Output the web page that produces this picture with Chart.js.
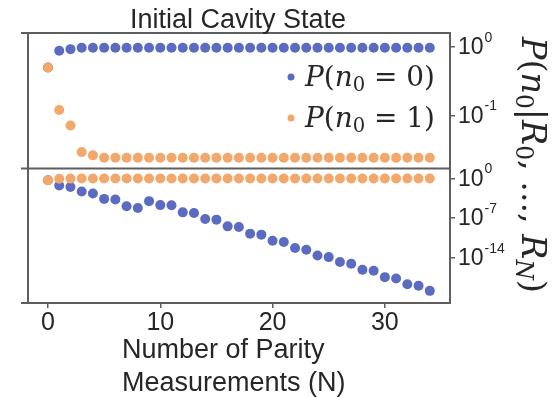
<!DOCTYPE html>
<html>
<head>
<meta charset="utf-8">
<script src="https://cdn.jsdelivr.net/npm/chart.js@4.4.0/dist/chart.umd.min.js"></script>
<style>
  html, body { margin: 0; padding: 0; background: #fff; }
</style>
</head>
<body>
<canvas id="chart" width="558" height="397"></canvas>
<script>
// measurement index N
const measurements = [0, 1, 2, 3, 4, 5, 6, 7, 8, 9, 10, 11, 12, 13, 14, 15, 16, 17,
  18, 19, 20, 21, 22, 23, 24, 25, 26, 27, 28, 29, 30, 31, 32, 33, 34];

// upper panel: record started from n0 = 0
const upperP0 = [0.5, 0.88, 0.929, 0.971, 0.974, 0.976, 0.976, 0.976, 0.976, 0.976,
  0.976, 0.976, 0.976, 0.976, 0.976, 0.976, 0.976, 0.976, 0.976, 0.976, 0.976, 0.976,
  0.976, 0.976, 0.976, 0.976, 0.976, 0.976, 0.976, 0.976, 0.976, 0.976, 0.976, 0.976, 0.976];
const upperP1 = [0.5, 0.12, 0.071, 0.029, 0.026, 0.024, 0.024, 0.024, 0.024, 0.024,
  0.024, 0.024, 0.024, 0.024, 0.024, 0.024, 0.024, 0.024, 0.024, 0.024, 0.024, 0.024,
  0.024, 0.024, 0.024, 0.024, 0.024, 0.024, 0.024, 0.024, 0.024, 0.024, 0.024, 0.024, 0.024];

// lower panel: record started from n0 = 1
const lowerP0 = [0.5, 5.8e-2, 3.2e-2, 5e-3, 2.2e-3, 2.5e-4, 1.9e-4, 1.3e-5, 6.3e-6, 1e-4,
  2e-5, 1.9e-5, 1.05e-6, 8.3e-7, 7e-8, 5.4e-8, 3.5e-9, 2.8e-9, 1.8e-10, 1.2e-10,
  1e-11, 6e-12, 5.1e-13, 2.6e-13, 2.5e-14, 1.3e-14, 1.7e-15, 8.5e-16, 7.4e-17, 4.9e-17,
  3.7e-18, 2.1e-18, 2.1e-19, 1.1e-19, 1.4e-20];
const lowerP1 = [0.5, 0.942, 0.968, 0.995, 0.998, 1, 1, 1, 1, 1, 1, 1, 1, 1, 1, 1, 1, 1,
  1, 1, 1, 1, 1, 1, 1, 1, 1, 1, 1, 1, 1, 1, 1, 1, 1];

const xTicks = [0, 10, 20, 30];
const upperTicks = [1, 0.1];
const lowerTicks = [1, 1e-7, 1e-14];

const blue = '#5b6bc2';
const orange = '#f2a76b';
const ink = '#262626';
const frame = '#5e5e5e';
const sans = '"Liberation Sans", Arial, sans-serif';
const serif = '"DejaVu Serif", "Liberation Serif", serif';

function points(ys) {
  return measurements.map((n, i) => ({ x: n, y: ys[i] }));
}

// draws a small math expression, parts are [text, kind]
// kind: r = roman, i = italic, s = subscript, si = italic subscript
function mathText(ctx, parts, x, y, size, draw) {
  let cx = x;
  parts.forEach(([txt, kind]) => {
    let fs = size, dy = 0;
    const italic = kind === 'i' || kind === 'si';
    if (kind === 's' || kind === 'si') { fs = size * 0.7; dy = size * 0.18; }
    ctx.font = (italic ? 'italic ' : '') + fs + 'px ' + serif;
    if (draw) ctx.fillText(txt, cx, y + dy);
    cx += ctx.measureText(txt).width;
  });
  return cx - x;
}

function fitSize(ctx, parts, base, width) {
  return base * width / mathText(ctx, parts, 0, 0, base, false);
}

const legendItems = [
  { color: blue, parts: [['P', 'i'], ['(', 'r'], ['n', 'i'], ['0', 's'], [' = 0)', 'r']] },
  { color: orange, parts: [['P', 'i'], ['(', 'r'], ['n', 'i'], ['0', 's'], [' = 1)', 'r']] }
];
const yTitle = [['P', 'i'], ['(', 'r'], ['n', 'i'], ['0', 's'], ['|', 'r'], ['R', 'i'], ['0', 's'],
  [', ..., ', 'r'], ['R', 'i'], ['N', 'si'], [')', 'r']];

const decorations = {
  id: 'decorations',
  afterDraw(chart) {
    const ctx = chart.ctx;
    const area = chart.chartArea;
    const top = chart.scales.yTop, bot = chart.scales.yBot;
    ctx.save();

    // panel frames
    ctx.strokeStyle = frame;
    ctx.lineWidth = 2;
    ctx.beginPath();
    [area.top, top.bottom, area.bottom].forEach(y => {
      ctx.moveTo(area.left - 7, y); ctx.lineTo(area.right + 1, y);
    });
    ctx.moveTo(area.left, area.top); ctx.lineTo(area.left, area.bottom);
    ctx.moveTo(area.right, area.top); ctx.lineTo(area.right, area.bottom);
    ctx.stroke();

    // log tick labels on the right
    ctx.fillStyle = ink;
    ctx.textBaseline = 'middle';
    ctx.textAlign = 'left';
    [top, bot].forEach(scale => {
      scale.ticks.forEach(t => {
        const y = scale.getPixelForValue(t.value);
        const exp = String(Math.round(Math.log10(t.value)));
        ctx.font = '23px ' + sans;
        ctx.fillText('10', area.right + 8, y + 1);
        const w = ctx.measureText('10').width;
        ctx.font = '14px ' + sans;
        ctx.fillText(exp, area.right + 9 + w, y - 9);
      });
    });

    // title
    ctx.font = '27px ' + sans;
    ctx.textAlign = 'center';
    ctx.textBaseline = 'alphabetic';
    ctx.fillText('Initial Cavity State', 238, 28);

    // x axis title, two left aligned lines
    ctx.textAlign = 'left';
    ctx.fillText('Number of Parity', 122, 358);
    ctx.fillText('Measurements (N)', 122, 391);

    // legend
    const legSize = fitSize(ctx, legendItems[0].parts, 24, 130);
    legendItems.forEach((item, i) => {
      const y = 77 + i * 41;
      ctx.fillStyle = item.color;
      ctx.beginPath();
      ctx.arc(291, y, 3.5, 0, Math.PI * 2);
      ctx.fill();
      ctx.fillStyle = ink;
      mathText(ctx, item.parts, 305, y + 9, legSize, true);
    });

    // rotated y title
    const size = fitSize(ctx, yTitle, 28, 256);
    ctx.translate(522, 37);
    ctx.rotate(Math.PI / 2);
    mathText(ctx, yTitle, 0, 0, size, true);

    ctx.restore();
  }
};

const logAxis = (min, max, ticks, weight) => ({
  type: 'logarithmic',
  position: 'right',
  stack: 'panels',
  stackWeight: weight,
  min: min,
  max: max,
  border: { display: false },
  grid: { display: true, drawOnChartArea: false, drawTicks: true, tickLength: 5, color: frame, lineWidth: 1.5 },
  ticks: { display: false },
  afterBuildTicks: axis => { axis.ticks = ticks.map(v => ({ value: v })); },
  afterFit: axis => { axis.width = 6; }
});

new Chart(document.getElementById('chart'), {
  type: 'scatter',
  data: {
    datasets: [
      { label: 'P(n0=1) upper', data: points(upperP1), yAxisID: 'yTop', backgroundColor: orange },
      { label: 'P(n0=0) upper', data: points(upperP0), yAxisID: 'yTop', backgroundColor: blue },
      { label: 'P(n0=1) lower', data: points(lowerP1), yAxisID: 'yBot', backgroundColor: orange },
      { label: 'P(n0=0) lower', data: points(lowerP0), yAxisID: 'yBot', backgroundColor: blue }
    ]
  },
  options: {
    responsive: false,
    animation: false,
    devicePixelRatio: 1,
    layout: { padding: { left: 28, top: 33, right: 102, bottom: 0 } },
    elements: { point: { radius: 5, borderWidth: 0, hoverRadius: 5 } },
    plugins: { legend: { display: false }, tooltip: { enabled: false } },
    scales: {
      x: {
        type: 'linear',
        min: -1.78,
        max: 35.8,
        border: { display: false },
        grid: { display: true, drawOnChartArea: false, tickLength: 5, color: frame, lineWidth: 1.5 },
        ticks: { color: ink, font: { family: sans, size: 25 }, padding: 0 },
        afterBuildTicks: axis => { axis.ticks = xTicks.map(v => ({ value: v })); },
        afterFit: axis => { axis.height = 94; }
      },
      yTop: logAxis(0.0167, 1.6, upperTicks, 135),
      yBot: logAxis(1e-22, 59, lowerTicks, 134)
    }
  },
  plugins: [decorations]
});
</script>
</body>
</html>
